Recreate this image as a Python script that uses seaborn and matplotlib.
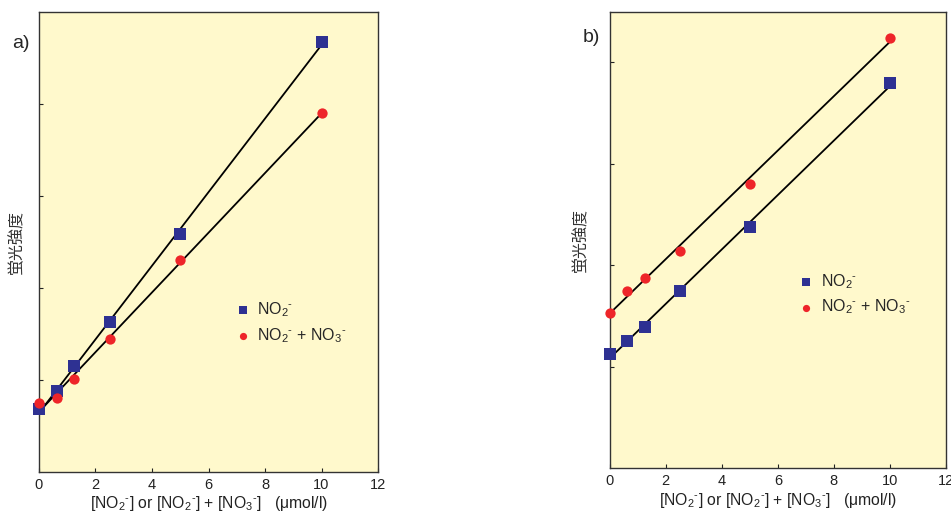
import numpy as np
import pandas as pd
import seaborn as sns
import matplotlib.pyplot as plt

sns.set_style('ticks')
plt.rcParams['font.family'] = ['Liberation Sans', 'DejaVu Sans']
plt.rcParams['mathtext.fontset'] = 'custom'
plt.rcParams['mathtext.rm'] = 'Liberation Sans'

# concentrations (umol/l)
conc = [0, 0.625, 1.25, 2.5, 5, 10]

# panel a) fluorescence (arbitrary units)
a_no2 = [0.68, 0.88, 1.15, 1.63, 2.59, 4.67]
a_no2_no3 = [0.75, 0.80, 1.01, 1.45, 2.30, 3.90]

# panel b)
b_no2 = [1.13, 1.25, 1.39, 1.75, 2.38, 3.79]
b_no2_no3 = [1.53, 1.75, 1.87, 2.14, 2.80, 4.24]

panels = [
    ('a)', a_no2, a_no2_no3, [0.041, 0.0817, 0.3565, 0.895], 5.0, (0.53, 0.325), (12, 43), -0.041),
    ('b)', b_no2, b_no2_no3, [0.641, 0.0889, 0.3538, 0.887], 4.49, (0.514, 0.382), (583, 38), -0.061),
]

sq_color = '#2E3192'
ci_color = '#EE2529'
bg = '#FFF9CC'
m = r'$^{\text{-}}$'
no2 = 'NO$_2$' + m
no3 = 'NO$_3$' + m
xlab = f'[{no2}] or [{no2}] + [{no3}]   (μmol/l)'

fig = plt.figure(figsize=(9.51, 5.14), dpi=100)

for tag, y1, y2, pos, ytop, leg_xy, tag_xy, ylab_x in panels:
    ax = fig.add_axes(pos)
    ax.set_facecolor(bg)
    df = pd.DataFrame({'conc': conc, 'no2': y1, 'both': y2})

    sns.regplot(data=df, x='conc', y='no2', scatter=False, ci=None, color='black',
                line_kws={'lw': 1.3}, ax=ax)
    sns.regplot(data=df, x='conc', y='both', scatter=False, ci=None, color='black',
                line_kws={'lw': 1.3}, ax=ax)
    sns.scatterplot(data=df, x='conc', y='no2', marker='s', s=72, color=sq_color,
                    linewidth=0, label=no2, ax=ax, zorder=3, clip_on=False)
    sns.scatterplot(data=df, x='conc', y='both', marker='o', s=55, color=ci_color,
                    linewidth=0, label=f'{no2} + {no3}', ax=ax, zorder=3, clip_on=False)

    ax.set_xlim(0, 12)
    ax.set_ylim(0, ytop)
    ax.set_xticks(range(0, 13, 2))
    ax.set_yticks([1, 2, 3, 4])
    ax.set_yticklabels([])
    ax.tick_params(direction='in', length=3, width=0.8, labelsize=10.5, pad=4, colors='#222222')
    for sp in ax.spines.values():
        sp.set_color('#333333')
        sp.set_linewidth(1.0)

    ax.set_xlabel(xlab, fontsize=11.3, color='#222222', labelpad=2)
    ax.set_ylabel('蛍光強度', fontsize=11.5, color='#333333',
                  family=['Noto Sans CJK JP', 'DejaVu Sans'])
    ax.yaxis.set_label_coords(ylab_x, 0.5)

    ax.legend(loc='center left', bbox_to_anchor=leg_xy, frameon=False, fontsize=11.5,
              markerscale=0.7, handletextpad=0.3, labelspacing=0.45, handlelength=1.2)

    fig.text(tag_xy[0] / 951, 1 - tag_xy[1] / 514, tag, fontsize=14, va='center', ha='left')

fig.savefig('out.png', dpi=100)
